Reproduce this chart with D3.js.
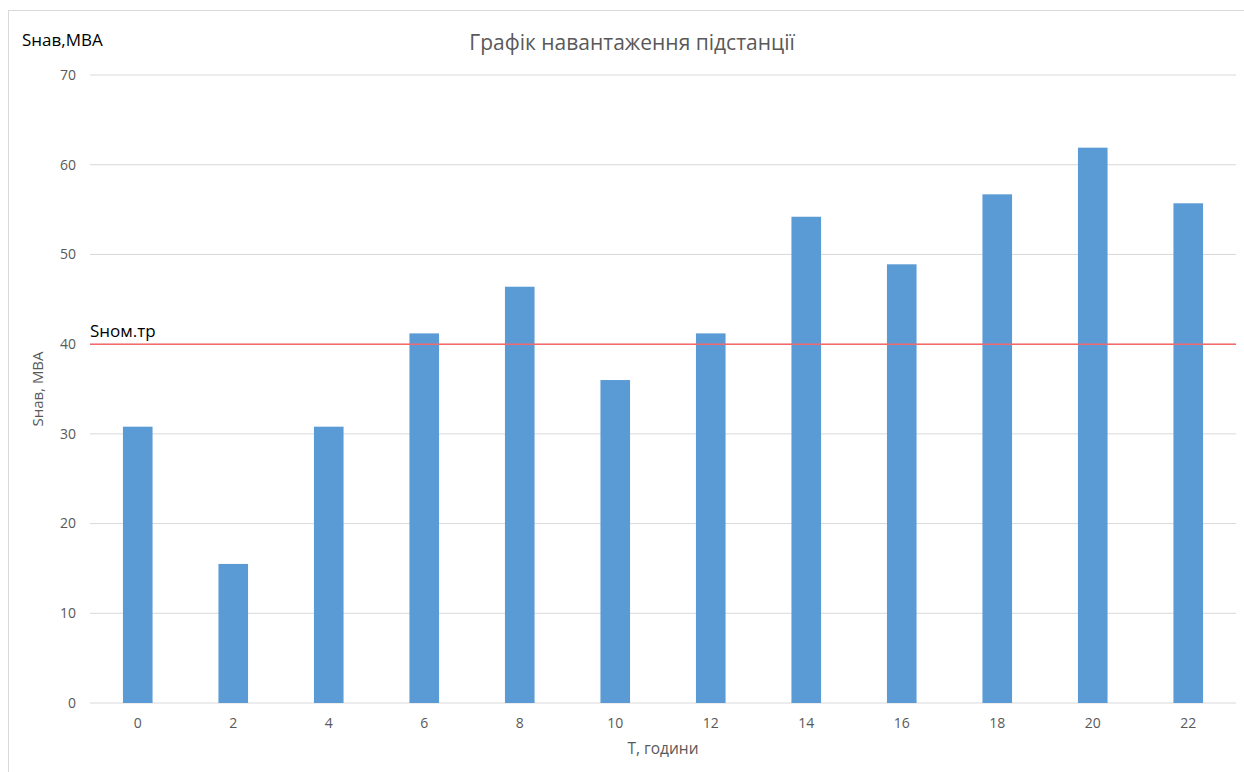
<!DOCTYPE html>
<html>
<head>
<meta charset="utf-8">
<script src="https://cdn.jsdelivr.net/npm/d3@7"></script>
<style>
  body { margin: 0; background: #fff; }
  text { font-family: "Open Sans", "Noto Sans", sans-serif; }
</style>
</head>
<body>
<script>
// hours of the day and load of the substation, MVA
var hours = [0, 2, 4, 6, 8, 10, 12, 14, 16, 18, 20, 22];
var loads = [30.8, 15.5, 30.8, 41.2, 46.4, 36.0, 41.2, 54.2, 48.9, 56.7, 61.9, 55.7];
var yTicks = [0, 10, 20, 30, 40, 50, 60, 70];
var nominal = 40;

var width = 1244, height = 772;
var margin = {top: 75, right: 8, bottom: 69, left: 90};

var svg = d3.select("body").append("svg")
    .attr("width", width)
    .attr("height", height);

// chart frame
svg.append("rect")
    .attr("x", 8.5).attr("y", 10.5)
    .attr("width", width).attr("height", height)
    .attr("fill", "#fff")
    .attr("stroke", "#d9d9d9");

var x = d3.scaleBand()
    .domain(hours)
    .range([margin.left, width - margin.right])
    .paddingInner(0.69)
    .paddingOuter(0.345);

var y = d3.scaleLinear()
    .domain([0, 70])
    .range([height - margin.bottom, margin.top]);

// gridlines
svg.append("g")
    .selectAll("line")
    .data(yTicks)
    .join("line")
    .attr("x1", margin.left).attr("x2", width - margin.right)
    .attr("y1", d => y(d)).attr("y2", d => y(d))
    .attr("stroke", "#d9d9d9")
    .attr("stroke-width", 1);

// y tick labels
svg.append("g")
    .selectAll("text")
    .data(yTicks)
    .join("text")
    .attr("x", 76)
    .attr("y", d => y(d))
    .attr("dy", "0.35em")
    .attr("text-anchor", "end")
    .attr("fill", "#595959")
    .attr("font-size", 14)
    .text(d => d);

// bars
svg.append("g")
    .selectAll("rect")
    .data(loads)
    .join("rect")
    .attr("x", (d, i) => x(hours[i]))
    .attr("y", d => y(d))
    .attr("width", x.bandwidth())
    .attr("height", d => y(0) - y(d))
    .attr("fill", "#5b9bd5");

// x tick labels
svg.append("g")
    .selectAll("text")
    .data(hours)
    .join("text")
    .attr("x", d => x(d) + x.bandwidth() / 2)
    .attr("y", 728)
    .attr("text-anchor", "middle")
    .attr("fill", "#595959")
    .attr("font-size", 14)
    .text(d => d);

// nominal power line
svg.append("line")
    .attr("x1", margin.left).attr("x2", width - margin.right)
    .attr("y1", y(nominal)).attr("y2", y(nominal))
    .attr("stroke", "#f4696b")
    .attr("stroke-width", 1.5);

svg.append("text")
    .attr("x", 90)
    .attr("y", 337)
    .attr("fill", "#000")
    .attr("font-size", 17)
    .text("Sном.тр");

// title
svg.append("text")
    .attr("x", 632)
    .attr("y", 50)
    .attr("text-anchor", "middle")
    .attr("fill", "#595959")
    .attr("font-size", 21)
    .text("Графік навантаження підстанції");

// corner label
svg.append("text")
    .attr("x", 22)
    .attr("y", 46)
    .attr("fill", "#000")
    .attr("font-size", 17)
    .text("Sнав,МВА");

// axis titles
svg.append("text")
    .attr("transform", "translate(43," + ((margin.top + height - margin.bottom) / 2) + ") rotate(-90)")
    .attr("text-anchor", "middle")
    .attr("fill", "#595959")
    .attr("font-size", 15)
    .text("Sнав, МВА");

svg.append("text")
    .attr("x", (margin.left + width - margin.right) / 2)
    .attr("y", 754)
    .attr("text-anchor", "middle")
    .attr("fill", "#595959")
    .attr("font-size", 15.5)
    .text("T, години");
</script>
</body>
</html>
